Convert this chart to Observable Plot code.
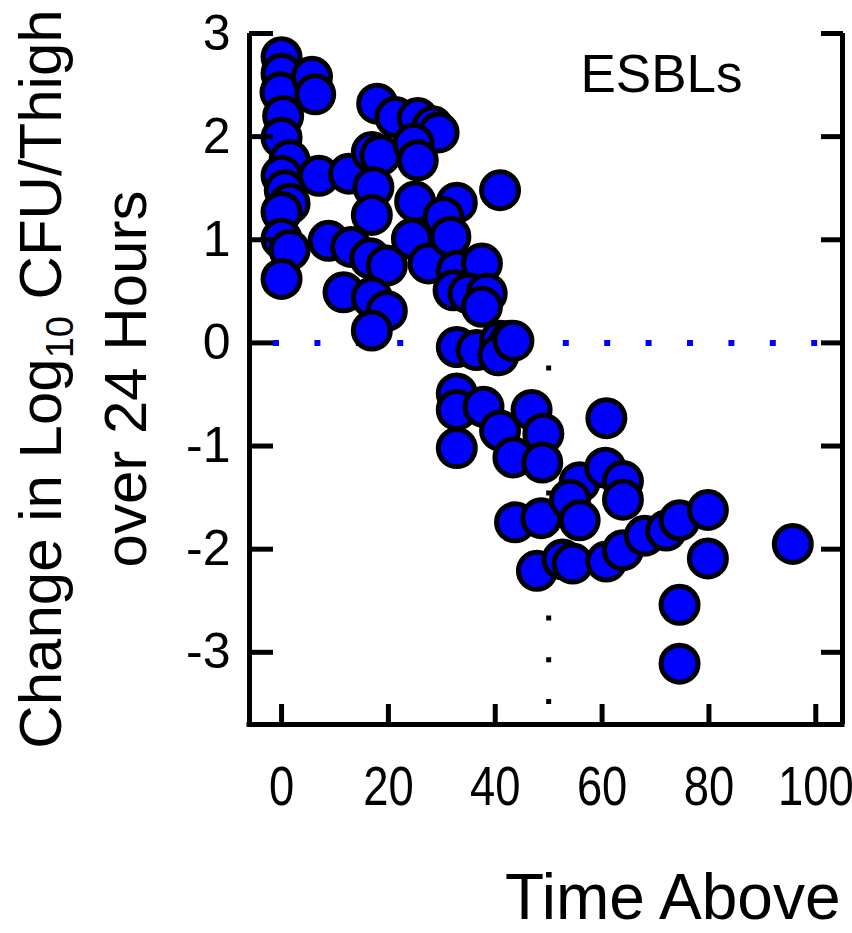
<!DOCTYPE html>
<html><head><meta charset="utf-8">
<script src="https://cdn.jsdelivr.net/npm/d3@7"></script>
<script src="https://cdn.jsdelivr.net/npm/@observablehq/plot@0.6"></script>
<style>html,body{margin:0;padding:0;background:#fff} svg{display:block}</style>
</head><body><div id="chart"></div>
<script>
// ---- data ----
const timeAbove = [0,0,-0.2,0.3,0,1.5,0,0.6,1.5,0,0,1.5,0,
  5.7,6.3,7.0,8.8,11.6,12.6,13.0,
  17.9,21.3,16.9,18.5,17.2,16.9,16.6,19.7,16.9,19.7,16.9,
  25.5,28.3,29.4,24.7,25.5,25.0,24.4,27.5,
  32.8,30.3,31.6,32.8,37.5,32.2,35.0,38.4,37.5,40.9,
  32.8,36.5,40.9,42.8,40.6,43.4,
  32.8,32.8,37.8,40.9,46.8,49.0,32.8,43.4,48.8,43.7,48.6,47.8,52.6,54.5,
  55.8,54.0,55.8,60.8,60.6,63.9,63.9,60.8,63.9,68.0,72.0,74.5,79.8,79.8,74.5,74.5,95.7];
const logChange = [2.77,2.61,2.43,2.20,1.99,1.77,1.62,1.48,1.35,1.27,1.01,0.90,0.62,
  2.58,2.41,1.62,0.99,0.49,1.64,0.93,
  2.32,2.19,1.85,1.82,1.51,1.24,0.82,0.75,0.44,0.31,0.12,
  2.18,2.10,2.04,1.93,1.77,1.37,1.01,0.77,
  1.36,1.22,1.03,0.70,0.77,0.51,0.48,0.48,0.35,1.48,
  -0.04,-0.07,0.02,0.02,-0.12,0.02,
  -0.49,-0.65,-0.62,-0.85,-0.65,-0.88,-1.02,-1.11,-1.16,-1.74,-1.70,-2.21,-2.10,-2.14,
  -1.35,-1.52,-1.72,-0.73,-1.21,-1.34,-1.52,-2.12,-2.01,-1.87,-1.82,-1.72,-1.62,-2.09,-2.54,-3.11,-1.95];
const xTicks = [0, 20, 40, 60, 80, 100];
const xTickLabels = ["0", "20", "40", "60", "80", "100"];
const yTicks = [-3, -2, -1, 0, 1, 2, 3];
const yTickLabels = ["-3", "-2", "-1", "0", "1", "2", "3"];
const xDomain = [-6, 105];
const yDomain = [-3.7, 3];
const zeroLine = [0];
const breakpoint = [50];
const panelLabel = ["ESBLs"];
const xTitle = ["Time Above"];
const yTitle = ["Change in Log10 CFU/Thigh", "over 24 Hours"];

const points = timeAbove.map((x, i) => ({x, y: logChange[i]}));
const FONT = "'Liberation Sans', Arial, Helvetica, sans-serif";

const svg = Plot.plot({
  width: 852, height: 933,
  marginLeft: 249, marginRight: 10, marginTop: 33, marginBottom: 209,
  style: {fontFamily: FONT, background: "white", overflow: "visible"},
  x: {domain: xDomain},
  y: {domain: yDomain},
  marks: [
    Plot.ruleY(zeroLine, {stroke: "#0000ff", strokeWidth: 6, strokeDasharray: "6 35.4", strokeDashoffset: 17.4, insetRight: -8}),
    Plot.ruleX(breakpoint, {y1: zeroLine[0], y2: yDomain[0], stroke: "black", strokeWidth: 5, strokeDasharray: "5 36.7", strokeDashoffset: 18.7}),
    Plot.dot(points, {x: "x", y: "y", r: 18.5, fill: "#0000ff", stroke: "black", strokeWidth: 5}),
    Plot.ruleX(xDomain, {stroke: "black", strokeWidth: 5}),
    Plot.ruleY([yDomain[0]], {stroke: "black", strokeWidth: 5, insetLeft: -2.5, insetRight: -2.5}),
    Plot.axisX(xTicks, {anchor: "bottom", tickSize: -20, strokeWidth: 5, tickPadding: 61, fontSize: 56,
      tickFormat: (d) => xTickLabels[xTicks.indexOf(d)], label: null}),
    Plot.axisY(yTicks, {anchor: "left", tickSize: -24, strokeWidth: 5, tickPadding: 43, fontSize: 50,
      tickFormat: (d) => yTickLabels[yTicks.indexOf(d)], label: null}),
    Plot.axisY(yTicks, {anchor: "right", tickSize: -22, strokeWidth: 5, tickFormat: () => "", label: null}),
    Plot.text(panelLabel, {frameAnchor: "top-right", dx: -100, dy: 21, textAnchor: "end", lineAnchor: "top", fontSize: 53}),
    Plot.text(xTitle, {frameAnchor: "bottom-right", dx: -2, dy: 149, textAnchor: "end", lineAnchor: "top", fontSize: 64}),
    Plot.text([yTitle[0]], {frameAnchor: "left", rotate: -90, dx: -189, textAnchor: "middle", lineAnchor: "bottom", fontSize: 60}),
    Plot.text([yTitle[1]], {frameAnchor: "left", rotate: -90, dx: -104, textAnchor: "middle", lineAnchor: "bottom", fontSize: 60})
  ]
});

// subscript "10" in the y-axis title
d3.select(svg).selectAll("text").each(function () {
  if (this.textContent === yTitle[0]) {
    const t = d3.select(this);
    t.text(null);
    t.append("tspan").text("Change in Log");
    t.append("tspan").attr("font-size", 38).attr("dy", 12).text("10");
    t.append("tspan").attr("dy", -12).text(" CFU/Thigh");
  }
});

// narrow, tall x tick labels as in the reference
d3.select(svg).selectAll('g[aria-label="x-axis tick label"] text').each(function () {
  const tr = this.getAttribute("transform");
  if (tr) {
    this.setAttribute("transform", tr + " scale(0.81,1)");
  } else {
    const x = this.getAttribute("x") || 0, y = this.getAttribute("y") || 0;
    this.removeAttribute("x"); this.removeAttribute("y");
    this.setAttribute("transform", `translate(${x},${y}) scale(0.81,1)`);
  }
});

document.getElementById("chart").appendChild(svg);
</script>
</body></html>
